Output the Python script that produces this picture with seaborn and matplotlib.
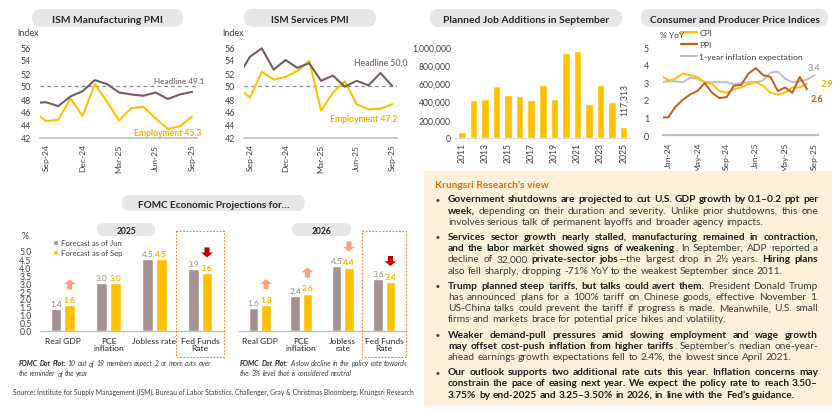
import numpy as np
import pandas as pd
import matplotlib
matplotlib.use('Agg')
import matplotlib.pyplot as plt
import matplotlib.ticker as mticker
import seaborn as sns
from matplotlib.patches import FancyBboxPatch, Rectangle, Polygon, Patch
from matplotlib.lines import Line2D

# ---------------- data ----------------
ism_months = ['Aug-24', 'Sep-24', 'Oct-24', 'Nov-24', 'Dec-24', 'Jan-25', 'Feb-25',
              'Mar-25', 'Apr-25', 'May-25', 'Jun-25', 'Jul-25', 'Aug-25', 'Sep-25']
ism_tick_labels = ['Sep-24', 'Dec-24', 'Mar-25', 'Jun-25', 'Sep-25']
mfg_headline = [47.4, 47.5, 46.9, 48.4, 49.2, 50.9, 50.3, 49.0, 48.7, 48.5, 49.0, 48.0, 48.7, 49.1]
mfg_employment = [46.0, 44.6, 44.8, 48.1, 45.4, 50.3, 47.6, 44.7, 46.6, 46.8, 45.0, 43.4, 43.8, 45.3]
svc_headline = [51.5, 54.5, 55.8, 52.5, 54.0, 52.8, 53.5, 50.8, 51.6, 49.9, 50.8, 50.1, 52.0, 50.0]
svc_employment = [49.8, 48.2, 52.2, 51.0, 51.4, 52.3, 53.9, 46.2, 49.0, 50.7, 47.2, 46.4, 46.5, 47.2]

job_years = list(range(2011, 2026))
planned_hires = [69000, 416000, 427000, 566000, 474000, 463000, 416000, 584000,
                 434000, 938000, 956000, 376000, 584000, 398000, 117313]

price_months = ['Dec-23', 'Jan-24', 'Feb-24', 'Mar-24', 'Apr-24', 'May-24', 'Jun-24', 'Jul-24',
                'Aug-24', 'Sep-24', 'Oct-24', 'Nov-24', 'Dec-24', 'Jan-25', 'Feb-25', 'Mar-25',
                'Apr-25', 'May-25', 'Jun-25', 'Jul-25', 'Aug-25', 'Sep-25']
price_tick_labels = ['Jan-24', 'May-24', 'Sep-24', 'Jan-25', 'May-25', 'Sep-25']
cpi = [3.4, 3.1, 3.2, 3.5, 3.4, 3.3, 3.0, 2.9, 2.5, 2.4, 2.6, 2.7, 2.9, 3.0, 2.8, 2.4,
       2.3, 2.4, 2.7, 2.7, 2.9, np.nan]
ppi = [1.0, 1.0, 1.6, 2.0, 2.3, 2.5, 2.95, 2.4, 2.1, 2.15, 2.8, 2.85, 3.5, 3.8, 3.4, 3.3,
       2.5, 2.7, 2.4, 3.3, 2.6, np.nan]
inflation_exp = [3.0, 3.05, 3.05, 3.0, 3.25, 3.2, 3.0, 3.0, 3.0, 3.0, 2.9, 2.95, 3.0, 3.0,
                 3.1, 3.55, 3.6, 3.2, 3.0, 3.05, 3.15, 3.4]

fomc_cats_2025 = ['Real GDP', 'PCE\ninflation', 'Jobless rate', 'Fed Funds\nRate']
fomc_cats_2026 = ['Real GDP', 'PCE\ninflation', 'Jobless\nrate', 'Fed Funds\nRate']
fomc_vintages = ['Forecast as of Jun', 'Forecast as of Sep']
jun_2025 = [1.4, 3.0, 4.5, 3.9]
sep_2025 = [1.6, 3.0, 4.5, 3.6]
jun_2026 = [1.6, 2.4, 4.5, 3.6]
sep_2026 = [1.8, 2.6, 4.4, 3.4]

view_title = 'Krungsri Research\u2019s view'
view_paragraphs = [
    [[('Government shutdowns are projected to cut U.S. GDP growth by 0.1\u20130.2 ppt per', 'B')],
     [('week,', 'B'), (' depending on their duration and severity. Unlike prior shutdowns, this one', 'R')],
     [('involves serious talk of permanent layoffs and broader agency impacts.', 'R')]],
    [[('Services sector growth nearly stalled, manufacturing remained in contraction,', 'B')],
     [('and the labor market showed signs of weakening', 'B'), ('. In September, ADP reported a', 'R')],
     [('decline of 32,000 ', 'R'), ('private-sector jobs', 'B'),
      ('\u2014the largest drop in 2\u00bd years. ', 'R'), ('Hiring plans', 'B')],
     [('also fell sharply, dropping -71% YoY to the weakest September since 2011.', 'R')]],
    [[('Trump planned steep tariffs, but talks could avert them.', 'B'), (' President Donald Trump', 'R')],
     [('has announced plans for a 100% tariff on Chinese goods, effective November 1.', 'R')],
     [('US-China talks could prevent the tariff if progress is made. Meanwhile, U.S. small', 'R')],
     [('firms and markets brace for potential price hikes and volatility.', 'R')]],
    [[('Weaker demand-pull pressures amid slowing employment and wage growth', 'B')],
     [('may offset cost-push inflation from higher tariffs', 'B'),
      ('. September\u2019s median one-year-', 'R')],
     [('ahead earnings growth expectations fell to 2.4%, the lowest since April 2021.', 'R')]],
    [[('Our outlook supports two additional rate cuts this year. Inflation concerns may', 'B')],
     [('constrain the pace of easing next year. We expect the policy rate to reach 3.50\u2013', 'B')],
     [('3.75% by end-2025 and 3.25\u20133.50% in 2026, in line with the Fed\u2019s guidance.', 'B')]],
]
note_2025 = [[('FOMC Dot Plot:', 'BI'), (' 10 out of 19 members expect 2 or more cuts over', 'I')],
             [('the reminder of the year', 'I')]]
note_2026 = [[('FOMC Dot Plot:', 'BI'), (' A slow decline in the policy rate towards', 'I')],
             [('the 3% level that is considered neutral', 'I')]]
source_text = ('Source: Institute for Supply Management (ISM), Bureau of Labor Statistics, '
               'Challenger, Gray & Christmas Bloomberg, Krungsri Research')

# ---------------- style ----------------
GOLD = '#FFC000'
HEAD_C = '#725E63'
MAUVE = '#A39290'
PPI_C = '#C55A11'
EXP_C = '#BFBFBF'
TXT = '#404040'
ARROW_O = '#F4A477'
ARROW_R = '#C00000'

sns.set_style('white')
plt.rcParams['font.family'] = ['Lato', 'DejaVu Sans']
plt.rcParams['axes.unicode_minus'] = False

W, H = 840, 414
fig = plt.figure(figsize=(W / 100, H / 100), dpi=100)
fig.patch.set_facecolor('white')
R = fig.canvas.get_renderer()


def frac(x0, y0, x1, y1):
    return [x0 / W, 1 - y1 / H, (x1 - x0) / W, (y1 - y0) / H]


ov = fig.add_axes([0, 0, 1, 1], zorder=10)
ov.set_xlim(0, W)
ov.set_ylim(H, 0)
ov.axis('off')
ov.patch.set_visible(False)

STY = {
    'B': dict(fontweight='bold', color='#1E1E1E'),
    'R': dict(fontweight='normal', color='#3C3C3C'),
    'BI': dict(fontweight='bold', fontstyle='italic', color='#262626'),
    'I': dict(fontweight='normal', fontstyle='italic', color='#404040'),
}


def tw(t):
    return t.get_window_extent(renderer=R).width


def fit_text(x, y, s, target, size0=8.0, axis=None, **kw):
    a = axis if axis is not None else ov
    t = a.text(x, y, s, fontsize=size0, **kw)
    t.set_fontsize(size0 * target / tw(t))
    return t


_cache = {}


def mw(s, st, size):
    key = (s, st, round(size, 3))
    if key not in _cache:
        t = ov.text(0, 0, s, fontsize=size, **STY[st])
        _cache[key] = tw(t)
        t.remove()
    return _cache[key]


def space_w(size):
    return mw('a a', 'R', size) - mw('aa', 'R', size)


def tokenize(segments):
    toks, cur = [], []
    for txt, st in segments:
        for ch in txt:
            if ch == ' ':
                if cur:
                    toks.append(cur)
                    cur = []
            else:
                if cur and cur[-1][1] == st:
                    cur[-1][0] += ch
                else:
                    cur.append([ch, st])
    if cur:
        toks.append(cur)
    return toks


def natural_width(segments, size):
    toks = tokenize(segments)
    return sum(mw(s, st, size) for tok in toks for s, st in tok) + (len(toks) - 1) * space_w(size)


def draw_runs(x, y, segments, size, avail=None, justify=False):
    toks = tokenize(segments)
    widths = [[mw(s, st, size) for s, st in tok] for tok in toks]
    tot = sum(sum(w) for w in widths)
    gap = space_w(size)
    if justify and len(toks) > 1:
        gap = (avail - tot) / (len(toks) - 1)
    cx = x
    for tok, ws in zip(toks, widths):
        for (s, st), w in zip(tok, ws):
            ov.text(cx, y, s, fontsize=size, va='baseline', ha='left', **STY[st])
            cx += w
        cx += gap


def pill(x0, y0, x1, y1, label, target):
    h = y1 - y0
    ov.add_patch(FancyBboxPatch((x0, y0), x1 - x0, h,
                                boxstyle=f'round,pad=0,rounding_size={h / 2}',
                                fc='#E7E6E6', ec='none', zorder=1))
    fit_text((x0 + x1) / 2, (y0 + y1) / 2 + 0.5, label, target, ha='center',
             va='center_baseline', fontweight='bold', color='#262626', zorder=2)


def clean(ax, bottom_color='#BFBFBF', lw=1.2):
    for s in ['left', 'right', 'top']:
        ax.spines[s].set_visible(False)
    ax.spines['bottom'].set_color(bottom_color)
    ax.spines['bottom'].set_linewidth(lw)
    ax.set_xlabel('')
    ax.set_ylabel('')
    ax.patch.set_alpha(0)
    ax.tick_params(axis='both', length=0, colors=TXT)


# ---------------- ISM charts ----------------
def ism_chart(box, head, emp, head_lbl, emp_lbl):
    ax = fig.add_axes(frac(*box))
    n = len(head)
    df = pd.DataFrame({'idx': np.tile(np.arange(n), 2), 'value': emp + head,
                       'series': ['Employment'] * n + ['Headline'] * n})
    sns.lineplot(data=df, x='idx', y='value', hue='series',
                 palette={'Employment': GOLD, 'Headline': HEAD_C},
                 linewidth=1.5, legend=False, ax=ax)
    ax.axhline(50, color='#8C8C8C', lw=0.9, ls=(0, (3, 2.5)), zorder=0.5)
    ax.set_xlim(0.5, n - 1 + 0.4)
    ax.set_ylim(42, 56)
    ax.set_yticks(np.arange(42, 57, 2))
    ax.set_xticks([ism_months.index(m) for m in ism_tick_labels])
    ax.set_xticklabels(ism_tick_labels, rotation=90)
    clean(ax)
    ax.tick_params(axis='y', labelsize=6.4, pad=6.5)
    ax.tick_params(axis='x', labelsize=6.1, pad=4)
    fit_text(head_lbl[0], head_lbl[1], f'Headline {head[-1]:.1f}', head_lbl[2],
             ha='right', va='center', fontweight='bold', color='#84767A')
    fit_text(emp_lbl[0], emp_lbl[1], f'Employment {emp[-1]:.1f}', emp_lbl[2],
             ha='right', va='center', fontweight='bold', color='#F2B200')
    return ax


pill(32, 10, 183, 28, 'ISM Manufacturing PMI', 110)
ov.text(17, 33, 'Index', fontsize=6.4, va='center', color=TXT)
ism_chart((40, 48, 197, 139), mfg_headline, mfg_employment, (204, 82, 51), (202, 134, 68))

pill(244, 10, 376, 28, 'ISM Services PMI', 79)
ov.text(222, 33, 'Index', fontsize=6.4, va='center', color=TXT)
ism_chart((244, 48, 397, 139), svc_headline, svc_employment, (407, 64, 54), (397, 120, 68))

# ---------------- planned job additions ----------------
pill(430, 10, 622, 28, 'Planned Job Additions in September', 166)
axj = fig.add_axes(frac(455, 48, 630, 139))
sns.barplot(x=[str(y) for y in job_years], y=planned_hires, color=GOLD, saturation=1,
            width=0.66, ax=axj)
axj.set_ylim(0, 1_000_000)
axj.set_yticks(np.arange(0, 1_000_001, 200_000))
axj.yaxis.set_major_formatter(mticker.FuncFormatter(lambda v, p: f'{int(v):,}'))
axj.set_xticks(range(0, len(job_years), 2))
axj.set_xticklabels([str(y) for y in job_years[::2]], rotation=90)
axj.set_xlim(-0.6, len(job_years) - 0.45)
clean(axj, bottom_color='#D9D9D9', lw=0.8)
axj.tick_params(axis='y', labelsize=6.2, pad=3)
axj.tick_params(axis='x', labelsize=6.2, pad=3)
axj.annotate(f'{planned_hires[-1]:,}', (len(job_years) - 1, planned_hires[-1]),
             xytext=(0.5, 9), textcoords='offset points', rotation=90,
             ha='center', va='bottom', fontsize=6.2, color=TXT)

# ---------------- prices ----------------
pill(641, 10, 828, 28, 'Consumer and Producer Price Indices', 170)
ov.text(660, 35, '% YoY', fontsize=6.0, va='center', color=TXT)
axp = fig.add_axes(frac(663, 48, 818, 136))
series_names = ['1-year inflation expectation', 'CPI', 'PPI']
pdf = pd.concat([
    pd.DataFrame({'idx': np.arange(len(price_months)), 'value': vals, 'series': name})
    for name, vals in zip(series_names, [inflation_exp, cpi, ppi])
]).dropna()
pal = {'CPI': GOLD, 'PPI': PPI_C, '1-year inflation expectation': EXP_C}
sns.lineplot(data=pdf, x='idx', y='value', hue='series', hue_order=series_names,
             palette=pal, linewidth=1.4, legend=False, ax=axp)
axp.set_xlim(0.3, len(price_months) - 0.5)
axp.set_ylim(0, 5)
axp.set_yticks(range(0, 6))
axp.set_xticks([price_months.index(m) for m in price_tick_labels])
axp.set_xticklabels(price_tick_labels, rotation=90)
clean(axp, lw=1.6)
axp.tick_params(axis='y', labelsize=6.4, pad=10)
axp.tick_params(axis='x', labelsize=6.1, pad=5)
handles = [Line2D([], [], color=pal[k], lw=1.6) for k in ['CPI', 'PPI', '1-year inflation expectation']]
axp.legend(handles, ['CPI', 'PPI', '1-year inflation expectation'], loc='upper left',
           bbox_to_anchor=(681 / W, 1 - 29.5 / H), bbox_transform=fig.transFigure,
           frameon=False, fontsize=6.1, handlelength=1.9, handletextpad=0.25,
           labelspacing=0.62, borderpad=0, borderaxespad=0, labelcolor=TXT)
last_e = len(inflation_exp) - 1
last_c = int(np.where(~np.isnan(cpi))[0][-1])
last_p = int(np.where(~np.isnan(ppi))[0][-1])
axp.annotate(f'{inflation_exp[last_e]:.1f}', (last_e, inflation_exp[last_e]), xytext=(0, 2),
             textcoords='offset points', ha='center', va='bottom', fontsize=6.6,
             fontweight='bold', color='#A6A6A6')
axp.annotate(f'{cpi[last_c]:.1f}', (last_c, cpi[last_c]), xytext=(10, 0),
             textcoords='offset points', ha='left', va='center', fontsize=6.6,
             fontweight='bold', color='#F2B200')
axp.annotate(f'{ppi[last_p]:.1f}', (last_p, ppi[last_p]), xytext=(7, -6.5),
             textcoords='offset points', ha='center', va='center', fontsize=6.6,
             fontweight='bold', color=PPI_C)

# ---------------- FOMC projections ----------------
pill(122, 196, 305, 212, 'FOMC Economic Projections for\u2026', 153)
pill(97, 224, 155, 237, '2025', 20)
pill(292, 224, 351, 237, '2026', 20)


def arrow(px, top, bot, up, color):
    hw, sw, hl = 6.0, 2.5, 4.8
    if up:
        pts = [(px, top), (px + hw, top + hl), (px + sw, top + hl), (px + sw, bot),
               (px - sw, bot), (px - sw, top + hl), (px - hw, top + hl)]
    else:
        pts = [(px, bot), (px + hw, bot - hl), (px + sw, bot - hl), (px + sw, top),
               (px - sw, top), (px - sw, bot - hl), (px - hw, bot - hl)]
    ov.add_patch(Polygon(pts, closed=True, fc=color, ec='none', zorder=3))


def fomc_chart(box, cats, jun, sep, ymax, show_y):
    ax = fig.add_axes(frac(*box))
    df = pd.DataFrame({'cat': cats * 2, 'value': jun + sep,
                       'vintage': [fomc_vintages[0]] * len(cats) + [fomc_vintages[1]] * len(cats)})
    sns.barplot(data=df, x='cat', y='value', hue='vintage', palette=[MAUVE, GOLD],
                width=0.6, gap=0.22, saturation=1, legend=False, ax=ax)
    ax.set_ylim(0, ymax)
    ax.set_xlim(-0.5, 3.5)
    clean(ax, lw=1.0)
    if show_y:
        ax.set_yticks(np.arange(0, 5.01, 0.5))
        ax.yaxis.set_major_formatter(mticker.FormatStrFormatter('%.1f'))
        ax.tick_params(axis='y', labelsize=6.3, pad=6)
    else:
        ax.set_yticks([])
    ax.set_xticks(range(len(cats)))
    ax.set_xticklabels(cats, fontsize=6.1, color='#262626', linespacing=1.05)
    ax.tick_params(axis='x', pad=4)
    for cont, col, wt in zip(ax.containers, ['#8C8C8C', '#F2B200'], ['normal', 'bold']):
        for bar in cont:
            h = bar.get_height()
            ax.annotate(f'{h:.1f}', (bar.get_x() + bar.get_width() / 2, h), xytext=(0, 1.5),
                        textcoords='offset points', ha='center', va='bottom',
                        fontsize=6.0, color=col, fontweight=wt)
    for i, (j, s) in enumerate(zip(jun, sep)):
        if s != j:
            bar = ax.containers[1][i]
            dx, dy = ax.transData.transform((bar.get_x() + bar.get_width() / 2, s))
            py = H - dy
            arrow(dx, py - 26, py - 16, s > j, ARROW_R if i == len(cats) - 1 else ARROW_O)
    # dashed frame around the policy-rate group
    xl = ax.transData.transform((len(cats) - 1 - 0.53, 0))[0]
    xr = ax.transData.transform((len(cats) - 1 + 0.53, 0))[0]
    ov.add_patch(Rectangle((xl, 232), xr - xl, 126, fill=False, ec='#ED7D31',
                           lw=0.8, ls=(0, (1.5, 1.5)), zorder=2))
    return ax


ax25 = fomc_chart((40, 252, 223, 332), fomc_cats_2025, jun_2025, sep_2025, 5.0, True)
ov.text(25, 237, '%', fontsize=6.2, va='center', ha='center', color=TXT)
ax25.legend([Patch(fc=MAUVE), Patch(fc=GOLD)], fomc_vintages, loc='upper left',
            bbox_to_anchor=(53 / W, 1 - 240 / H), bbox_transform=fig.transFigure,
            frameon=False, fontsize=5.5, handlelength=0.7, handleheight=0.7,
            handletextpad=0.35, labelspacing=0.45, borderpad=0, borderaxespad=0,
            labelcolor=TXT)
ax26 = fomc_chart((239, 252, 405, 332), fomc_cats_2026, jun_2026, sep_2026, 5.55, False)


def note(x, y, lines, target):
    s0 = 6.0
    size = s0 * target / natural_width(lines[0], s0)
    for k, ln in enumerate(lines):
        draw_runs(x, y + k * 9.3, ln, size)


note(19, 366.5, note_2025, 192)
note(240, 366.5, note_2026, 168)

fit_text(13, 392, source_text, 404, va='center', ha='left', color=TXT)

# ---------------- Krungsri view panel ----------------
ov.add_patch(Rectangle((424, 172), 408, 235, fc='#FDF1DC', ec='none', zorder=0))
fit_text(435, 185, view_title, 113, va='center', ha='left', fontweight='bold', color='#E36C0A')

X0, X1, BX = 448, 818, 438
avail = X1 - X0
s0 = 7.0
ratio = max(natural_width(ln, s0) / avail for para in view_paragraphs for ln in para)
psize = s0 / ratio * 0.995
y = 199.3
for para in view_paragraphs:
    ov.text(BX, y, '\u25cf', fontsize=4.6, ha='center', va='center', color='#3C3C3C')
    for k, ln in enumerate(para):
        last = k == len(para) - 1
        draw_runs(X0, y + 3.2, ln, psize, avail=avail, justify=not last)
        y += 11.2
    y += 4.0

fig.savefig('out.png', dpi=100, facecolor='white')
